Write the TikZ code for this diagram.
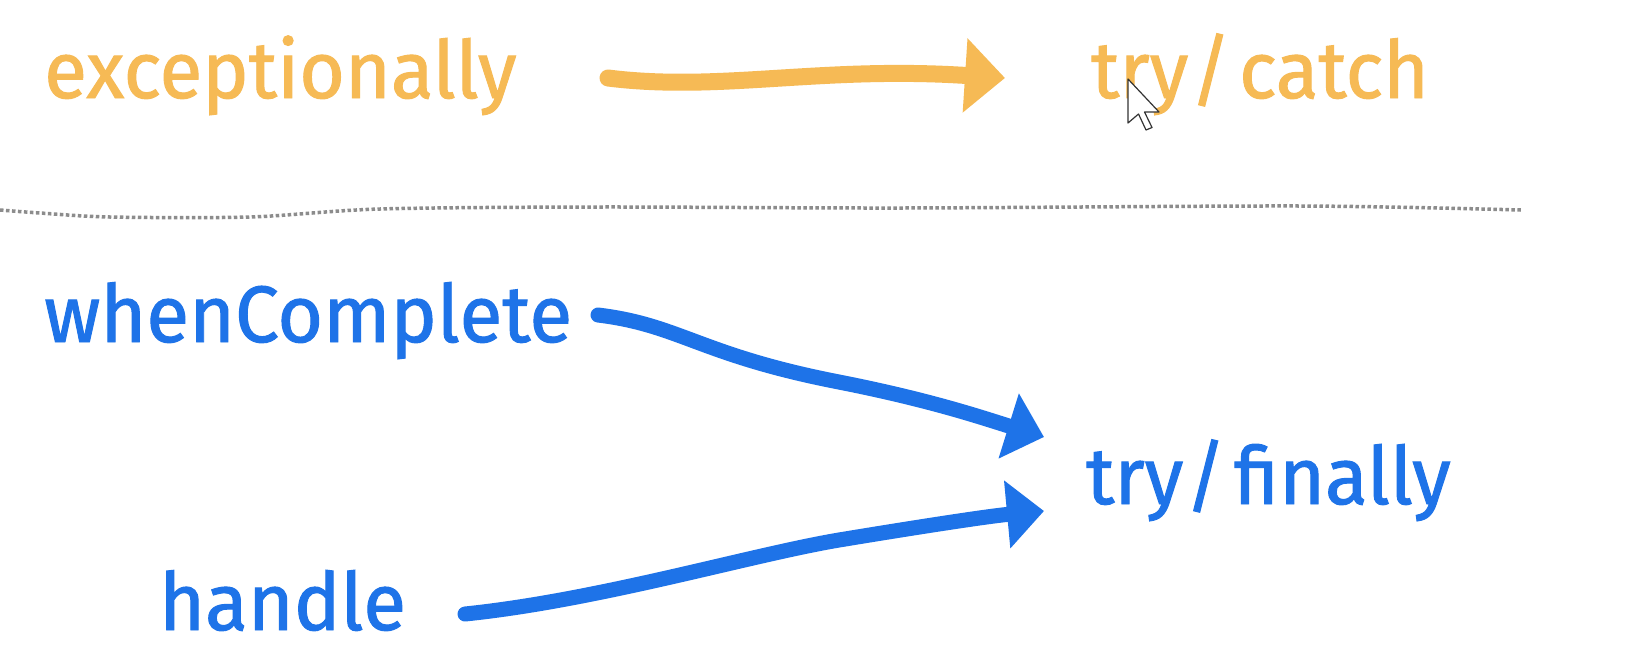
\documentclass[tikz,border=0pt]{standalone}
\usepackage{fontspec}
\newfontfamily\hand[FakeStretch=0.98,FakeBold=1.2]{Fira Sans}
\usetikzlibrary{arrows.meta}
\definecolor{orng}{HTML}{F6BA55}
\definecolor{blu}{HTML}{1E73E8}
\definecolor{dotgray}{HTML}{8C8C8C}
\newcommand{\slashgap}{\kern2pt/\kern8pt}
\tikzset{
  word/.style={anchor=base west, inner sep=0pt, font=\hand\fontsize{80}{96}\selectfont},
  oword/.style={word, text=orng},
  bword/.style={word, text=blu},
  oarrow/.style={draw=orng, line width=17pt, line cap=round, -{Triangle[length=40pt,width=72pt]}},
  barrow/.style={draw=blu, line width=15pt, line cap=round, -{Triangle[length=37pt,width=66pt]}},
  divider/.style={draw=dotgray, line width=3.5pt, dash pattern=on 3.5pt off 2.5pt},
  cursor/.style={draw=black!80, fill=white, line width=1.2pt, line join=round}
}
\begin{document}
\begin{tikzpicture}[x=1pt,y=-1pt]
\useasboundingbox[fill=white] (0,0) rectangle (1645,654);
% top row
\node[oword] (exc) at (44,98) {exceptionally};
\node[oword] (tc) at (1091,98) {try\slashgap catch};
\coordinate (oa) at (608,78);
\coordinate (ob) at (1005,78);
\draw[oarrow] (oa) .. controls (720,92) and (820,66) .. (ob);
% divider
\coordinate (dl) at (0,210);
\coordinate (dr) at (1521,210);
\draw[divider] plot[smooth] coordinates {(dl) (40,213) (110,217) (250,217) (380,209) (600,207) (900,208) (1300,206) (dr)};
% bottom
\node[bword] (wc) at (44,342) {whenComplete};
\node[bword] (hd) at (159,630) {handle};
\node[bword] (tf) at (1086,504) {try\slashgap finally};
\coordinate (wa) at (598,315);
\coordinate (ha) at (465,614);
\coordinate (t1) at (1044,437);
\coordinate (t2) at (1044,511);
\draw[barrow] (wa) .. controls (680,325) and (700,355) .. (839,382) .. controls (930,400) and (980,417) .. (t1);
\draw[barrow] (ha) .. controls (600,600) and (750,555) .. (839,540) .. controls (930,525) and (990,516) .. (t2);
% mouse cursor
\draw[cursor] (1128,79) -- (1128,123) -- (1138.5,114) -- (1146,130) -- (1152,127.5) -- (1144.5,112) -- (1159,112) -- cycle;
\end{tikzpicture}
\end{document}
